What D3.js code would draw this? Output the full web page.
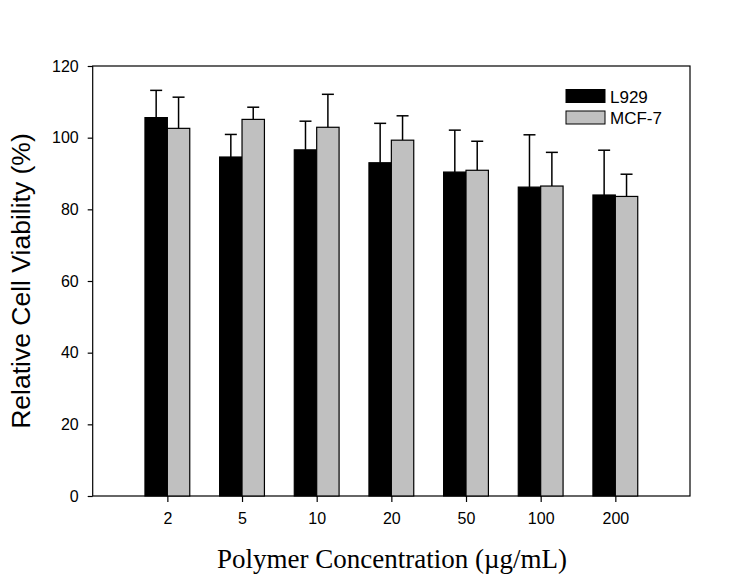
<!DOCTYPE html>
<html><head><meta charset="utf-8">
<script src="https://cdn.jsdelivr.net/npm/d3@7"></script>
<style>body{margin:0;background:#fff}svg{display:block}</style>
</head><body>
<svg id="c" width="748" height="582"></svg>
<script>
const categories = ["2","5","10","20","50","100","200"];
const l929 = [105.6, 94.6, 96.6, 93.0, 90.4, 86.2, 84.0];
const l929Err = [7.6, 6.3, 8.0, 11.0, 11.7, 14.6, 12.5];
const mcf7 = [102.6, 105.1, 102.9, 99.3, 90.9, 86.5, 83.6];
const mcf7Err = [8.7, 3.4, 9.2, 6.8, 8.1, 9.4, 6.2];
const yTicks = [0,20,40,60,80,100,120];
const seriesNames = ["L929","MCF-7"];

const svg = d3.select("#c");
const L = 92.7, R = 690, T = 66, B = 496;
const y = d3.scaleLinear().domain([0,120]).range([B,T]);
const xi = d3.scaleLinear().domain([0, categories.length+1]).range([L,R]);
const bw = (xi(1)-xi(0))*0.3;
const colors = ["#000000","#c0c0c0"];
const series = [l929, mcf7];
const errs = [l929Err, mcf7Err];

// frame
svg.append("rect").attr("x",L).attr("y",T).attr("width",R-L).attr("height",B-T)
  .attr("fill","none").attr("stroke","#000").attr("stroke-width",1.2);

// y axis
const ya = svg.append("g").attr("transform",`translate(${L},0)`)
  .call(d3.axisLeft(y).tickValues(yTicks).tickSize(5).tickPadding(9).tickSizeOuter(0));
ya.select(".domain").remove();
ya.selectAll("text").attr("font-family","Liberation Sans, Arial, sans-serif").attr("font-size",16).attr("fill","#000");
ya.selectAll("line").attr("stroke","#000").attr("stroke-width",1.2);

// x axis
const xa = svg.append("g").attr("transform",`translate(0,${B})`)
  .call(d3.axisBottom(xi).tickValues(categories.map((c,i)=>i+1)).tickFormat((d)=>categories[d-1]).tickSize(6).tickPadding(11).tickSizeOuter(0));
xa.select(".domain").remove();
xa.selectAll("text").attr("font-family","Liberation Sans, Arial, sans-serif").attr("font-size",16).attr("fill","#000");
xa.selectAll("line").attr("stroke","#000").attr("stroke-width",1.2);

// bars
series.forEach((vals,s)=>{
  const g = svg.append("g");
  vals.forEach((v,i)=>{
    const x0 = xi(i+1) - bw + s*bw;
    const cx = x0 + bw/2;
    const top = y(v+errs[s][i]);
    g.append("line").attr("x1",cx).attr("x2",cx).attr("y1",y(v)).attr("y2",top).attr("stroke","#000").attr("stroke-width",1.5);
    g.append("line").attr("x1",cx-6).attr("x2",cx+6).attr("y1",top).attr("y2",top).attr("stroke","#000").attr("stroke-width",1.5);
    g.append("rect").attr("x",x0).attr("y",y(v)).attr("width",bw).attr("height",y(0)-y(v))
      .attr("fill",colors[s]).attr("stroke","#000").attr("stroke-width",1.2);
  });
});

// legend
seriesNames.forEach((n,s)=>{
  const yy = 89.5 + s*21.5;
  svg.append("rect").attr("x",566).attr("y",yy).attr("width",39).attr("height",13)
    .attr("fill",colors[s]).attr("stroke","#000").attr("stroke-width",1);
  svg.append("text").attr("x",610).attr("y",yy+13).text(n)
    .attr("font-family","Liberation Sans, Arial, sans-serif").attr("font-size",17).attr("fill","#000");
});

// axis titles
svg.append("text").attr("transform","translate(30,281) rotate(-90)").attr("text-anchor","middle")
  .attr("font-family","Liberation Sans, Arial, sans-serif").attr("font-size",26.5).attr("fill","#000")
  .text("Relative Cell Viability (%)");
svg.append("text").attr("x",392).attr("y",568).attr("text-anchor","middle")
  .attr("font-family","Liberation Serif, Times New Roman, serif").attr("font-size",27).attr("fill","#000")
  .text("Polymer Concentration (\u00b5g/mL)");
</script>
</body></html>
